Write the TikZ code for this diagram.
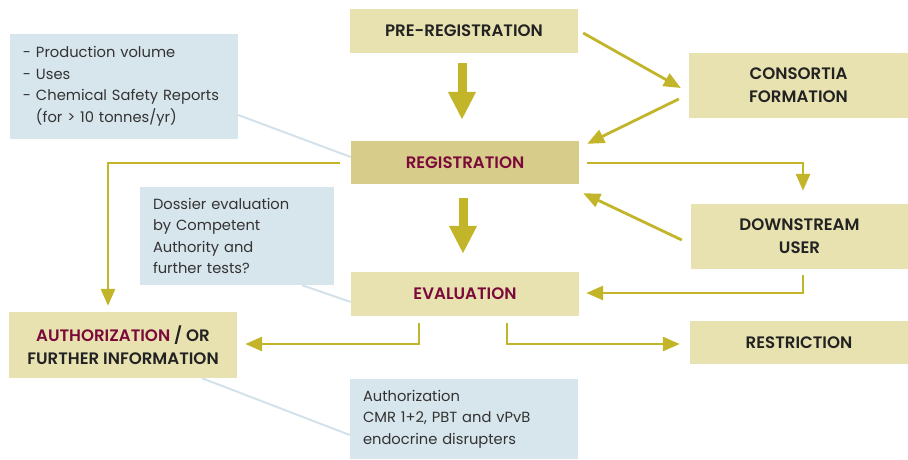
\documentclass[tikz,border=0pt]{standalone}
\usepackage{fontspec}
\setmainfont{Poppins}
\newfontfamily\headfont{Poppins SemiBold}
\usetikzlibrary{arrows.meta,calc}
\definecolor{beige}{HTML}{E8E2B1}
\definecolor{beigedark}{HTML}{D8CC8A}
\definecolor{infoblue}{HTML}{D7E5EC}
\definecolor{leader}{HTML}{D3E2EA}
\definecolor{olive}{HTML}{C2B52A}
\definecolor{wine}{HTML}{7B0A3A}
\definecolor{ink}{HTML}{222222}
\definecolor{softink}{HTML}{333333}
\tikzset{
  stagebox/.style={fill=beige, draw=none, inner sep=0pt, align=center,
    font=\headfont\fontsize{16.6}{23}\selectfont, text=ink},
  infobox/.style={fill=infoblue, draw=none, inner xsep=13pt, inner ysep=0pt, align=left,
    font=\fontsize{14.7}{21.5}\selectfont, text=softink},
  arr/.style={draw=olive, line width=2.8pt, -{Triangle[width=14pt,length=17pt]}},
  bigarr/.style={draw=olive, line width=9pt, -{Triangle[width=26pt,length=28pt]}},
  leaderline/.style={draw=leader, line width=2pt},
}
\begin{document}
\begin{tikzpicture}[x=1pt,y=-1pt]
\useasboundingbox (0,0) rectangle (908,459);
% stage boxes
\node[stagebox, minimum width=228pt, minimum height=44pt] (pre) at (464,31) {PRE-REGISTRATION};
\node[stagebox, minimum width=219pt, minimum height=65pt] (cons) at (798.5,85.5) {CONSORTIA\\FORMATION};
\node[stagebox, fill=beigedark, text=wine, minimum width=228pt, minimum height=43pt] (reg) at (465,162.5) {REGISTRATION};
\node[stagebox, minimum width=217pt, minimum height=65pt] (down) at (799.5,236.5) {DOWNSTREAM\\USER};
\node[stagebox, text=wine, minimum width=228pt, minimum height=44pt] (eval) at (465,294) {EVALUATION};
\node[stagebox, minimum width=218pt, minimum height=43pt] (restr) at (799,342.5) {RESTRICTION};
\node[stagebox, minimum width=228pt, minimum height=66pt] (auth) at (123,345) {\textcolor{wine}{AUTHORIZATION} / OR\\FURTHER INFORMATION};
% info boxes
\node[infobox, text width=202pt, minimum height=105pt] (info1) at (124,86.5) {- Production volume\\- Uses\\- Chemical Safety Reports\\\hphantom{-} (for > 10 tonnes/yr)};
\node[infobox, text width=168pt, minimum height=98pt] (info2) at (237,236) {Dossier evaluation\\by Competent\\Authority and\\further tests?};
\node[infobox, text width=202pt, minimum height=80pt] (info3) at (464,419) {Authorization\\CMR 1+2, PBT and vPvB\\endocrine disrupters};
% leader lines
\draw[leaderline] ($(info1.east)+(0,28.5)$) -- ($(reg.west)+(0,-5.5)$);
\draw[leaderline] ($(info2.south)+(65,0)$) -- ($(eval.west)+(0,8)$);
\draw[leaderline] ($(auth.south)+(79,0)$) -- ($(info3.west)+(0,16)$);
% thick arrows
\draw[bigarr] ($(pre.south)+(-2,10)$) -- ($(reg.north)+(-3,-21)$);
\draw[bigarr] ($(reg.south)+(-2,14)$) -- ($(eval.north)+(-2,-18)$);
% thin arrows
\draw[arr] ($(pre.east)+(5,2)$) -- ($(cons.west)+(-8,2.5)$);
\draw[arr] ($(cons.west)+(-10,13.5)$) -- ($(reg.north east)+(8,3)$);
\draw[arr] ($(reg.east)+(8,0.5)$) -| ($(down.north)+(3.5,-13)$);
\draw[arr] ($(down.west)+(-9,3.5)$) -- ($(reg.south east)+(4,9)$);
\draw[arr] ($(down.south)+(3.5,6)$) |- ($(eval.east)+(7,-1)$);
\draw[arr] ($(eval.south)+(-46,7)$) |- ($(auth.east)+(8,-1)$);
\draw[arr] ($(eval.south)+(42,7)$) |- ($(restr.west)+(-10,1.5)$);
\draw[arr] ($(reg.west)+(-11,0.5)$) -| ($(auth.north)+(-15,-6)$);
\end{tikzpicture}
\end{document}
